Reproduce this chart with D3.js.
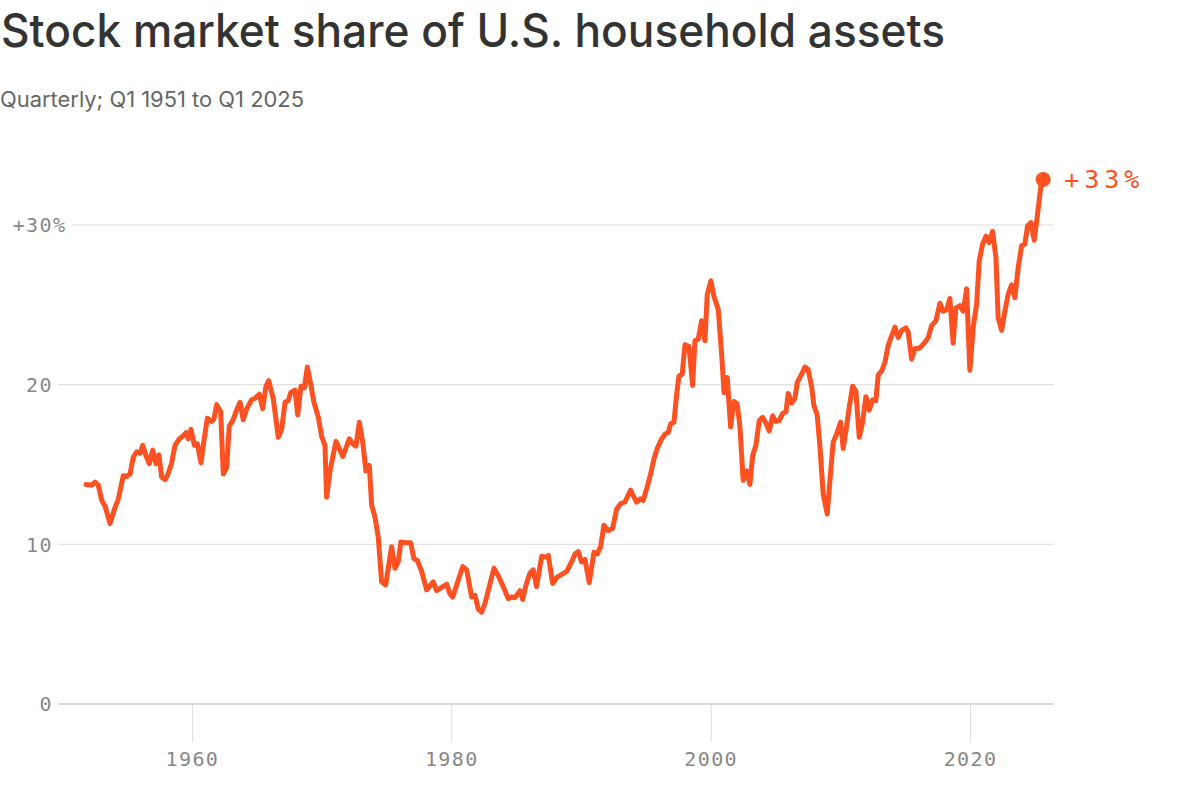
<!DOCTYPE html>
<html>
<head>
<meta charset="utf-8">
<script src="https://cdn.jsdelivr.net/npm/d3@7"></script>
<style>
  body { margin: 0; background: #fff; }
  svg { display: block; }
</style>
</head>
<body>
<div id="chart"></div>
<script>
// quarterly series (x = position on the year axis, y = % share)
const years = [
  1951.84, 1952.27, 1952.53, 1952.78, 1953.05, 1953.30, 1953.69, 1954.07, 1954.33, 1954.71,
  1954.97, 1955.23, 1955.48, 1955.74, 1956.00, 1956.21, 1956.46, 1956.72, 1956.98, 1957.23,
  1957.46, 1957.67, 1957.95, 1958.18, 1958.44, 1958.70, 1959.03, 1959.34, 1959.55, 1959.72,
  1959.93, 1960.19, 1960.42, 1960.70, 1960.93, 1961.19, 1961.53, 1961.70, 1961.91, 1962.22,
  1962.42, 1962.68, 1962.88, 1963.15, 1963.40, 1963.71, 1963.96, 1964.23, 1964.61, 1964.87,
  1965.20, 1965.46, 1965.71, 1965.92, 1966.28, 1966.66, 1966.92, 1967.18, 1967.43, 1967.62,
  1967.95, 1968.16, 1968.41, 1968.67, 1968.90, 1969.11, 1969.41, 1969.75, 1970.01, 1970.26,
  1970.39, 1970.65, 1971.11, 1971.63, 1972.14, 1972.40, 1972.65, 1972.91, 1973.17, 1973.42,
  1973.68, 1973.86, 1974.12, 1974.37, 1974.63, 1974.94, 1975.40, 1975.66, 1975.91, 1976.12,
  1976.51, 1976.87, 1977.12, 1977.38, 1977.72, 1978.10, 1978.61, 1978.87, 1979.26, 1979.65,
  1979.90, 1980.11, 1980.54, 1980.88, 1981.19, 1981.57, 1981.83, 1982.08, 1982.34, 1982.60,
  1982.93, 1983.29, 1983.62, 1984.01, 1984.39, 1984.66, 1984.91, 1985.30, 1985.51, 1985.76,
  1986.07, 1986.32, 1986.58, 1986.97, 1987.30, 1987.48, 1987.82, 1988.17, 1988.59, 1988.90,
  1989.28, 1989.54, 1989.79, 1990.05, 1990.31, 1990.64, 1991.00, 1991.26, 1991.52, 1991.77,
  1992.10, 1992.44, 1992.75, 1993.06, 1993.39, 1993.83, 1994.03, 1994.29, 1994.60, 1994.80,
  1995.11, 1995.37, 1995.63, 1995.88, 1996.22, 1996.48, 1996.73, 1996.92, 1997.17, 1997.38,
  1997.56, 1997.81, 1998.02, 1998.33, 1998.61, 1998.79, 1999.04, 1999.31, 1999.56, 1999.74,
  2000.02, 2000.25, 2000.59, 2000.85, 2001.03, 2001.28, 2001.54, 2001.80, 2002.05, 2002.26,
  2002.51, 2002.78, 2003.03, 2003.24, 2003.49, 2003.75, 2004.01, 2004.26, 2004.52, 2004.78,
  2005.03, 2005.29, 2005.55, 2005.81, 2005.98, 2006.25, 2006.50, 2006.68, 2007.02, 2007.27,
  2007.52, 2007.79, 2007.96, 2008.22, 2008.43, 2008.68, 2008.99, 2009.20, 2009.45, 2009.71,
  2010.02, 2010.22, 2010.43, 2010.69, 2010.95, 2011.20, 2011.46, 2011.72, 2011.97, 2012.23,
  2012.49, 2012.74, 2012.92, 2013.18, 2013.44, 2013.69, 2013.96, 2014.21, 2014.46, 2014.73,
  2015.06, 2015.23, 2015.50, 2015.75, 2016.14, 2016.52, 2016.78, 2017.04, 2017.37, 2017.68,
  2017.93, 2018.20, 2018.45, 2018.70, 2018.91, 2019.22, 2019.48, 2019.74, 2019.99, 2020.25,
  2020.51, 2020.71, 2020.97, 2021.23, 2021.48, 2021.74, 2022.00, 2022.17, 2022.44, 2022.69,
  2022.94, 2023.21, 2023.46, 2023.72, 2023.98, 2024.23, 2024.44, 2024.70, 2024.95, 2025.21,
  2025.47, 2025.64
];
const shares = [
  13.75, 13.7, 13.9, 13.7, 12.75, 12.4, 11.3, 12.3, 12.85, 14.3,
  14.25, 14.4, 15.45, 15.8, 15.7, 16.2, 15.55, 15.05, 15.9, 15.05,
  15.6, 14.2, 14.05, 14.45, 15.1, 16.2, 16.6, 16.8, 17.0, 16.6,
  17.2, 16.2, 16.3, 15.1, 16.5, 17.9, 17.7, 17.85, 18.75, 18.3,
  14.4, 14.8, 17.4, 17.75, 18.3, 18.9, 17.8, 18.5, 19.05, 19.15,
  19.4, 18.5, 19.9, 20.25, 19.1, 16.7, 17.2, 18.9, 19.0, 19.5,
  19.65, 18.1, 19.9, 19.8, 21.1, 20.25, 18.9, 17.95, 16.75, 16.2,
  12.95, 14.6, 16.45, 15.5, 16.6, 16.3, 16.15, 17.65, 16.4, 14.6,
  14.95, 12.45, 11.7, 10.45, 7.65, 7.45, 9.85, 8.5, 8.9, 10.15,
  10.1, 10.1, 9.1, 9.0, 8.3, 7.15, 7.65, 7.1, 7.3, 7.5,
  6.9, 6.7, 7.75, 8.6, 8.4, 6.7, 6.8, 5.95, 5.75, 6.3,
  7.35, 8.5, 8.05, 7.35, 6.6, 6.7, 6.65, 7.1, 6.55, 7.45,
  8.2, 8.4, 7.35, 9.25, 9.2, 9.3, 7.55, 7.95, 8.15, 8.3,
  8.9, 9.4, 9.55, 8.9, 9.05, 7.6, 9.5, 9.4, 9.85, 11.2,
  10.85, 11.0, 12.2, 12.55, 12.65, 13.4, 13.05, 12.65, 12.85, 12.75,
  13.6, 14.4, 15.35, 16.0, 16.6, 16.9, 17.0, 17.55, 17.65, 19.4,
  20.55, 20.65, 22.5, 22.4, 19.95, 22.75, 22.85, 24.0, 22.75, 25.65,
  26.5, 25.55, 24.7, 21.9, 19.5, 20.45, 17.35, 18.95, 18.8, 17.35,
  14.0, 14.6, 13.75, 15.55, 16.2, 17.75, 17.95, 17.6, 17.1, 18.05,
  17.7, 17.75, 18.2, 18.3, 19.45, 18.85, 19.15, 20.15, 20.65, 21.1,
  20.95, 19.85, 18.7, 18.1, 16.1, 13.15, 11.9, 14.0, 16.4, 16.9,
  17.65, 16.0, 17.1, 18.6, 19.9, 19.6, 16.7, 17.65, 19.25, 18.4,
  19.05, 19.0, 20.6, 20.85, 21.4, 22.45, 23.05, 23.6, 22.95, 23.4,
  23.55, 23.3, 21.6, 22.25, 22.3, 22.65, 22.95, 23.7, 24.0, 25.1,
  24.6, 24.7, 25.4, 22.6, 24.8, 24.95, 24.6, 26.0, 20.9, 23.6,
  25.05, 27.75, 28.8, 29.3, 28.9, 29.6, 27.95, 24.2, 23.4, 24.6,
  25.65, 26.25, 25.45, 27.35, 28.7, 28.8, 29.95, 30.15, 29.05, 30.7,
  32.45, 32.85
];
const xTickValues = [1960, 1980, 2000, 2020];
const yTickValues = [0, 10, 20, 30];
const endLabel = "+33%";

const width = 1200;
const height = 812;
const orange = "#fe5122";
const monoFont = "'DejaVu Sans Mono', monospace";

const data = years.map(function(yr, i) { return { year: yr, value: shares[i] }; });

const x = d3.scaleLinear()
    .domain([1960, 2020])
    .range([191.9, 970]);

const y = d3.scaleLinear()
    .domain([0, 30])
    .range([704, 225]);

const svg = d3.select("#chart")
    .append("svg")
    .attr("width", width)
    .attr("height", height);

// title + subtitle
svg.append("text")
    .attr("x", 1)
    .attr("y", 47)
    .attr("textLength", 944)
    .attr("lengthAdjust", "spacingAndGlyphs")
    .style("font-family", "Inter, 'Noto Sans', sans-serif")
    .style("font-size", "46px")
    .style("font-weight", 500)
    .style("fill", "#333")
    .text("Stock market share of U.S. household assets");

svg.append("text")
    .attr("x", 0)
    .attr("y", 107)
    .attr("textLength", 304)
    .attr("lengthAdjust", "spacingAndGlyphs")
    .style("font-family", "Inter, 'Noto Sans', sans-serif")
    .style("font-size", "21px")
    .style("fill", "#666")
    .text("Quarterly; Q1 1951 to Q1 2025");

// gridlines
svg.append("g")
    .selectAll("line")
    .data(yTickValues)
    .enter().append("line")
    .attr("x1", function(d) { return d === 30 ? 72 : 58; })
    .attr("x2", 1054)
    .attr("y1", function(d) { return y(d); })
    .attr("y2", function(d) { return y(d); })
    .attr("stroke", function(d) { return d === 0 ? "#ddd" : "#dcdcdc"; })
    .attr("stroke-width", function(d) { return d === 0 ? 2 : 1; });

// y labels, the % hangs to the right of the number
const yLabels = svg.append("g")
    .selectAll("text")
    .data(yTickValues)
    .enter().append("text")
    .attr("y", function(d) { return y(d); })
    .attr("dy", "0.36em")
    .style("font-family", monoFont)
    .style("font-size", "20px")
    .style("letter-spacing", "1.4px")
    .style("fill", "#888");

yLabels.each(function(d) {
    const t = d3.select(this);
    const num = d === 30 ? "+" + d : String(d);
    t.attr("x", 53).attr("text-anchor", "end").text(num);
    if (d === 30) {
        t.attr("text-anchor", "start")
            .attr("x", 53 - this.getComputedTextLength())
            .append("tspan").text("%");
    }
});

// x axis ticks
const xAxis = svg.append("g")
    .attr("transform", "translate(0,704)")
    .call(d3.axisBottom(x).tickValues(xTickValues).tickFormat(d3.format("d")).tickSize(38).tickPadding(10));

xAxis.select(".domain").remove();
xAxis.selectAll("line").attr("stroke", "#ddd");
xAxis.selectAll("text")
    .attr("fill", "#888")
    .style("font-family", monoFont)
    .style("font-size", "20px")
    .style("letter-spacing", "1.4px");

// the line
const line = d3.line()
    .x(function(d) { return x(d.year); })
    .y(function(d) { return y(d.value); });

svg.append("path")
    .datum(data)
    .attr("d", line)
    .attr("fill", "none")
    .attr("stroke", orange)
    .attr("stroke-width", 5)
    .attr("stroke-linejoin", "round")
    .attr("stroke-linecap", "round");

const last = data[data.length - 1];

svg.append("circle")
    .attr("cx", x(last.year))
    .attr("cy", y(last.value))
    .attr("r", 7.5)
    .attr("fill", orange);

svg.append("text")
    .attr("x", x(last.year) + 21)
    .attr("y", y(last.value))
    .attr("dy", "0.36em")
    .style("font-family", monoFont)
    .style("font-size", "25px")
    .style("letter-spacing", "5px")
    .style("fill", orange)
    .text(endLabel);
</script>
</body>
</html>
